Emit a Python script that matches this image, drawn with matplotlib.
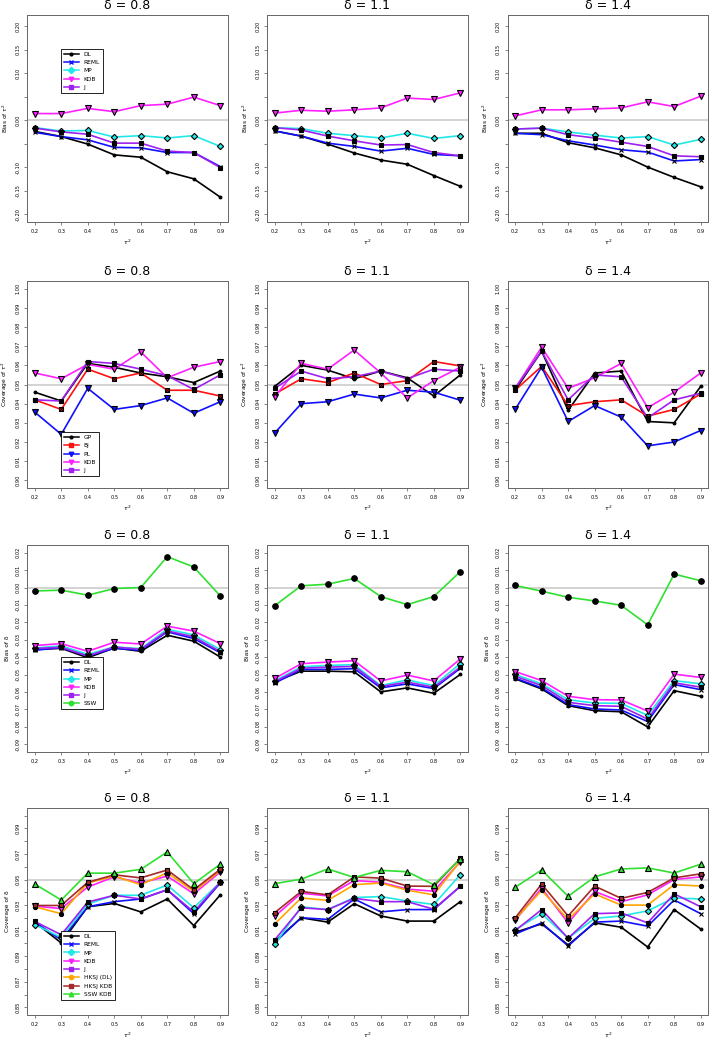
import matplotlib
matplotlib.use("Agg")
import matplotlib.pyplot as plt
from matplotlib.lines import Line2D

x = [0.2, 0.3, 0.4, 0.5, 0.6, 0.7, 0.8, 0.9]
deltas = ["0.8", "1.1", "1.4"]

# row 1: bias of tau^2, one list per delta column
bt_DL = [[-0.024, -0.035, -0.051, -0.074, -0.079, -0.110, -0.125, -0.164],
         [-0.023, -0.034, -0.051, -0.070, -0.085, -0.094, -0.118, -0.141],
         [-0.028, -0.028, -0.048, -0.059, -0.074, -0.100, -0.122, -0.142]]
bt_REML = [[-0.026, -0.035, -0.042, -0.058, -0.059, -0.069, -0.069, -0.099],
           [-0.023, -0.034, -0.049, -0.056, -0.066, -0.060, -0.073, -0.076],
           [-0.028, -0.031, -0.044, -0.053, -0.063, -0.068, -0.087, -0.084]]
bt_MP = [[-0.016, -0.023, -0.022, -0.036, -0.033, -0.038, -0.033, -0.056],
         [-0.016, -0.018, -0.028, -0.033, -0.038, -0.028, -0.039, -0.033],
         [-0.019, -0.017, -0.025, -0.032, -0.038, -0.035, -0.053, -0.041]]
bt_KDB = [[0.014, 0.014, 0.025, 0.018, 0.031, 0.034, 0.049, 0.031],
          [0.015, 0.021, 0.019, 0.022, 0.026, 0.047, 0.044, 0.058],
          [0.009, 0.022, 0.022, 0.024, 0.026, 0.039, 0.029, 0.051]]
bt_J = [[-0.017, -0.025, -0.030, -0.049, -0.049, -0.066, -0.069, -0.101],
        [-0.016, -0.021, -0.034, -0.044, -0.053, -0.052, -0.069, -0.076],
        [-0.019, -0.017, -0.031, -0.038, -0.047, -0.056, -0.076, -0.078]]

# row 2: coverage of tau^2
ct_GP = [[0.946, 0.9414, 0.961, 0.959, 0.956, 0.954, 0.951, 0.957],
         [0.949, 0.960, 0.9575, 0.953, 0.957, 0.9535, 0.944, 0.955],
         [0.947, 0.9674, 0.9365, 0.956, 0.957, 0.9307, 0.930, 0.949]]
ct_BJ = [[0.942, 0.937, 0.958, 0.953, 0.956, 0.947, 0.947, 0.944],
         [0.945, 0.953, 0.951, 0.956, 0.950, 0.952, 0.962, 0.9597],
         [0.947, 0.9595, 0.939, 0.941, 0.942, 0.9335, 0.937, 0.945]]
ct_PL = [[0.9356, 0.924, 0.948, 0.937, 0.939, 0.943, 0.935, 0.941],
         [0.9247, 0.940, 0.941, 0.945, 0.943, 0.947, 0.946, 0.9418],
         [0.937, 0.959, 0.9307, 0.939, 0.933, 0.918, 0.920, 0.926]]
ct_KDB = [[0.956, 0.953, 0.9605, 0.958, 0.967, 0.9535, 0.959, 0.962],
          [0.9435, 0.961, 0.958, 0.968, 0.956, 0.943, 0.952, 0.959],
          [0.948, 0.9695, 0.948, 0.9535, 0.961, 0.9379, 0.946, 0.956]]
ct_J = [[0.942, 0.9414, 0.962, 0.961, 0.958, 0.9546, 0.9474, 0.955],
        [0.948, 0.957, 0.953, 0.954, 0.957, 0.953, 0.958, 0.957],
        [0.948, 0.9674, 0.942, 0.955, 0.954, 0.9326, 0.942, 0.9454]]

# row 3: bias of delta
bd_DL = [[-0.0356, -0.0349, -0.0403, -0.0347, -0.0366, -0.0274, -0.0308, -0.0399],
         [-0.0541, -0.048, -0.048, -0.0484, -0.0599, -0.0576, -0.0607, -0.0499],
         [-0.0524, -0.0582, -0.0678, -0.0707, -0.0713, -0.080, -0.0592, -0.0624]]
bd_REML = [[-0.036, -0.0345, -0.0393, -0.0349, -0.036, -0.0254, -0.0293, -0.0374],
           [-0.0549, -0.047, -0.047, -0.0466, -0.0576, -0.0553, -0.058, -0.0464],
           [-0.052, -0.0576, -0.0672, -0.0697, -0.0703, -0.0769, -0.0557, -0.0586]]
bd_MP = [[-0.0347, -0.0335, -0.0383, -0.0341, -0.0351, -0.0239, -0.0272, -0.0356],
         [-0.0536, -0.0455, -0.0447, -0.0443, -0.0563, -0.053, -0.0563, -0.0437],
         [-0.0499, -0.0553, -0.0644, -0.0663, -0.0665, -0.0734, -0.0534, -0.0553]]
bd_KDB = [[-0.0333, -0.0322, -0.0366, -0.0314, -0.0324, -0.0222, -0.025, -0.0322],
          [-0.0522, -0.0437, -0.0428, -0.042, -0.0536, -0.0503, -0.0536, -0.041],
          [-0.0482, -0.0534, -0.0624, -0.0644, -0.0645, -0.0709, -0.0497, -0.0516]]
bd_J = [[-0.035, -0.0343, -0.0393, -0.0341, -0.0355, -0.0249, -0.0283, -0.0368],
        [-0.0541, -0.0463, -0.0457, -0.0453, -0.0568, -0.0543, -0.0572, -0.0457],
        [-0.0509, -0.0563, -0.0659, -0.0678, -0.0682, -0.0755, -0.0547, -0.0572]]
bd_SSW = [[-0.002, -0.0015, -0.0044, -0.0006, 0.000, 0.0177, 0.0118, -0.0048],
          [-0.0104, 0.001, 0.0019, 0.0052, -0.0052, -0.0098, -0.0052, 0.0091],
          [0.0012, -0.0021, -0.0056, -0.0077, -0.0102, -0.0214, 0.0077, 0.0039]]

# row 4: coverage of delta
cd_DL = [[0.9167, 0.9004, 0.9287, 0.9313, 0.9247, 0.9348, 0.914, 0.938],
         [0.9015, 0.9201, 0.9167, 0.9311, 0.9215, 0.9175, 0.9175, 0.9327],
         [0.9087, 0.9153, 0.8988, 0.9161, 0.9127, 0.8972, 0.9265, 0.9113]]
cd_REML = [[0.9167, 0.9028, 0.9287, 0.9327, 0.9348, 0.942, 0.9233, 0.9473],
           [0.9007, 0.9201, 0.9188, 0.9348, 0.9247, 0.9265, 0.9265, 0.9447],
           [0.9073, 0.9161, 0.898, 0.9167, 0.9175, 0.9135, 0.934, 0.9233]]
cd_MP = [[0.9148, 0.9047, 0.9308, 0.9377, 0.9377, 0.9457, 0.9279, 0.9479],
         [0.8993, 0.9287, 0.9265, 0.9359, 0.9367, 0.9332, 0.9305, 0.9537],
         [0.9108, 0.9233, 0.9041, 0.9196, 0.9215, 0.9255, 0.9356, 0.9348]]
cd_KDB = [[0.9292, 0.9273, 0.9441, 0.9521, 0.9473, 0.9527, 0.9388, 0.9559],
          [0.9212, 0.9393, 0.9372, 0.9492, 0.9479, 0.9425, 0.9409, 0.9639],
          [0.918, 0.9433, 0.916, 0.9407, 0.9327, 0.938, 0.950, 0.9521]]
cd_J = [[0.9172, 0.9068, 0.9324, 0.9377, 0.9348, 0.942, 0.9247, 0.9479],
        [0.9028, 0.9279, 0.9265, 0.9353, 0.9327, 0.9327, 0.9268, 0.9447],
        [0.910, 0.9265, 0.9041, 0.9233, 0.9239, 0.9161, 0.9388, 0.9287]]
cd_HKSJ_DL = [[0.9287, 0.9233, 0.9473, 0.9527, 0.946, 0.9553, 0.9407, 0.957],
              [0.9153, 0.9356, 0.9337, 0.946, 0.9473, 0.9417, 0.938, 0.9644],
              [0.9188, 0.9415, 0.9188, 0.9388, 0.930, 0.930, 0.946, 0.9449]]
cd_HKSJ_KDB = [[0.9297, 0.9297, 0.9479, 0.9537, 0.9513, 0.9575, 0.942, 0.958],
               [0.9241, 0.9407, 0.938, 0.9521, 0.9511, 0.9449, 0.9447, 0.9665],
               [0.9199, 0.9465, 0.9215, 0.9449, 0.9353, 0.9399, 0.9513, 0.9545]]
cd_SSW_KDB = [[0.9465, 0.934, 0.955, 0.955, 0.958, 0.9716, 0.9468, 0.962],
              [0.9468, 0.9503, 0.9583, 0.9516, 0.9572, 0.9561, 0.946, 0.966],
              [0.9439, 0.9575, 0.9369, 0.9521, 0.9583, 0.9591, 0.9551, 0.962]]

BLACK, BLUE, CYAN, MAGENTA = "black", "#1010ff", "#20e8e8", "#ff20ff"
PURPLE, GREEN, RED = "#a020f0", "#30e030", "#ff1010"
ORANGE, BROWN = "#ffa500", "#a52a2a"

# (label, data, line colour, marker, marker size, marker face in plot)
rows = [
    dict(ylabel=r"Bias of $\tau^2$", ref=0.0, ylim=(-0.217, 0.224),
         ticks=[-0.2, -0.15, -0.1, -0.05, 0.0, 0.05, 0.1, 0.15, 0.2],
         labels=["-0.20", "-0.15", "-0.10", "", "0.00", "", "0.10", "0.15", "0.20"],
         leg=(0.168, 0.837),
         series=[("DL", bt_DL, BLACK, "o", 2.0, "k"),
                 ("REML", bt_REML, BLUE, "x", 3.5, "k"),
                 ("MP", bt_MP, CYAN, "D", 3.2, CYAN),
                 ("KDB", bt_KDB, MAGENTA, "v", 3.8, MAGENTA),
                 ("J", bt_J, PURPLE, "s", 3.0, "k")]),
    dict(ylabel=r"Coverage of $\tau^2$", ref=0.95, ylim=(0.896, 1.004),
         ticks=[0.90 + 0.01 * i for i in range(11)],
         labels=["%.2f" % (0.90 + 0.01 * i) for i in range(11)],
         leg=(0.168, 0.27),
         series=[("GP", ct_GP, BLACK, "o", 2.0, "k"),
                 ("BJ", ct_BJ, RED, "s", 3.4, RED),
                 ("PL", ct_PL, BLUE, "v", 3.8, BLUE),
                 ("KDB", ct_KDB, MAGENTA, "v", 3.8, MAGENTA),
                 ("J", ct_J, PURPLE, "s", 3.0, "k")]),
    dict(ylabel="Bias of δ", ref=0.0, ylim=(-0.0944, 0.0244),
         ticks=[-0.09 + 0.01 * i for i in range(12)],
         labels=["%.2f" % (-0.09 + 0.01 * i) for i in range(12)],
         leg=(0.168, 0.459),
         series=[("DL", bd_DL, BLACK, "o", 2.0, "k"),
                 ("REML", bd_REML, BLUE, "x", 3.5, "k"),
                 ("MP", bd_MP, CYAN, "D", 3.2, CYAN),
                 ("KDB", bd_KDB, MAGENTA, "v", 3.8, MAGENTA),
                 ("J", bd_J, PURPLE, "s", 3.0, "k"),
                 ("SSW", bd_SSW, GREEN, "o", 4.0, "k")]),
    dict(ylabel="Coverage of δ", ref=0.95, ylim=(0.844, 1.006),
         ticks=[0.85 + 0.01 * i for i in range(16)],
         labels=["%.2f" % (0.85 + 0.01 * i) if i % 2 == 0 else "" for i in range(16)],
         leg=(0.168, 0.406),
         series=[("DL", cd_DL, BLACK, "o", 2.0, "k"),
                 ("REML", cd_REML, BLUE, "x", 3.5, "k"),
                 ("MP", cd_MP, CYAN, "D", 3.2, CYAN),
                 ("KDB", cd_KDB, MAGENTA, "v", 3.8, MAGENTA),
                 ("J", cd_J, PURPLE, "s", 3.0, "k"),
                 ("HKSJ (DL)", cd_HKSJ_DL, ORANGE, "o", 3.0, "k"),
                 ("HKSJ KDB", cd_HKSJ_KDB, BROWN, "s", 3.2, BROWN),
                 ("SSW KDB", cd_SSW_KDB, GREEN, "^", 3.8, GREEN)]),
]

W, H = 709, 1040
fig = plt.figure(figsize=(W / 100, H / 100), dpi=100)

col_left = [27.3, 267.3, 507.7]
row_top = [15, 281, 545, 808]
aw, ah = 200.4, 207

for r, row in enumerate(rows):
    for c in range(3):
        ax = fig.add_axes([col_left[c] / W, 1 - (row_top[r] + ah) / H, aw / W, ah / H])
        ax.axhline(row["ref"], color="#c8c8c8", lw=1.1, zorder=1)
        for name, data, col, mk, ms, mfc in row["series"]:
            ax.plot(x, data[c], color=col, lw=1.2, zorder=2)
            ax.plot(x, data[c], ls="none", marker=mk, ms=ms, mfc=mfc,
                    mec="black", mew=0.8, zorder=3)
            if name == "BJ":
                ax.plot(x, data[c], ls="none", marker="x", ms=2.4, color="black",
                        mew=0.6, zorder=4)
        ax.set_xlim(0.172, 0.928)
        ax.set_ylim(*row["ylim"])
        ax.set_xticks(x)
        ax.set_xticklabels(["%.1f" % v for v in x], fontsize=3.6)
        ax.set_yticks(row["ticks"])
        ax.set_yticklabels(row["labels"], fontsize=3.6, rotation=90, va="center")
        ax.tick_params(length=2.5, width=0.5, color="#555555", pad=2.5)
        for s in ax.spines.values():
            s.set_color("#666666")
            s.set_linewidth(0.7)
        ax.set_title("δ = " + deltas[c], fontsize=9, pad=4)
        ax.set_xlabel(r"$\tau^2$", fontsize=4.5, labelpad=3)
        ax.set_ylabel(row["ylabel"], fontsize=4.2, labelpad=4)
        if c == 0:
            handles = [Line2D([], [], color=col, lw=1.1, marker=mk,
                              ms=min(ms, 3.2), mfc=col, mec=col)
                       for name, data, col, mk, ms, mfc in row["series"]]
            names = [s[0] for s in row["series"]]
            leg = ax.legend(handles, names, loc="upper left",
                            bbox_to_anchor=row["leg"], borderaxespad=0,
                            fontsize=4.2, handlelength=2.6, labelspacing=0.55,
                            borderpad=0.5, handletextpad=0.8, fancybox=False,
                            framealpha=1)
            leg.get_frame().set_edgecolor("black")
            leg.get_frame().set_linewidth(0.6)

fig.savefig("out.png", dpi=100)
